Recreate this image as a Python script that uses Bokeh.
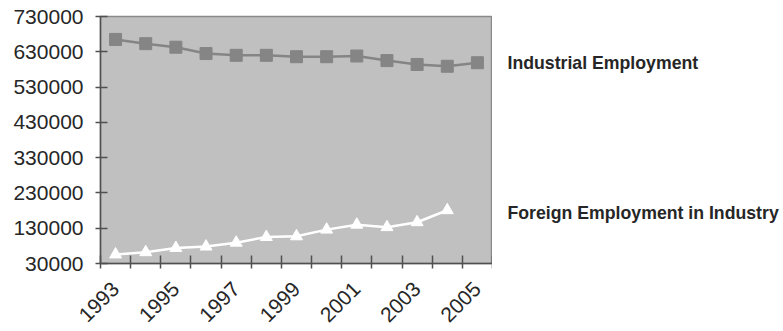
import math
from bokeh.plotting import figure
from bokeh.layouts import row
from bokeh.models import Range1d, FixedTicker, BasicTickFormatter, ColumnDataSource
from bokeh.core.properties import value
from bokeh.embed import file_html
from bokeh.resources import INLINE

years = [1993, 1994, 1995, 1996, 1997, 1998, 1999, 2000, 2001, 2002, 2003, 2004, 2005]
industrial = [665000, 653000, 643000, 625000, 620000, 620000, 616000, 616000, 618000, 605000, 594000, 589000, 599000]
foreign_years = [1993, 1994, 1995, 1996, 1997, 1998, 1999, 2000, 2001, 2002, 2003, 2004]
foreign = [55600, 62000, 74000, 78000, 89000, 105000, 107000, 126000, 140000, 133000, 147000, 181000]
y_ticks = [30000, 130000, 230000, 330000, 430000, 530000, 630000, 730000]
x_label_years = [1993, 1995, 1997, 1999, 2001, 2003, 2005]
series_names = ["Industrial Employment", "Foreign Employment in Industry"]
label_y = [597000, 172000]

FONT = "Liberation Sans"
y_range = Range1d(y_ticks[0], y_ticks[-1])

p = figure(width=492, height=331, output_backend="svg", toolbar_location=None,
           x_range=Range1d(years[0] - 0.5, years[-1] + 0.5),
           y_range=y_range,
           min_border_left=100, min_border_right=0, min_border_top=16, min_border_bottom=68)

p.background_fill_color = "#c0c0c0"
p.border_fill_color = "white"
p.outline_line_color = "#8a8a8a"
p.outline_line_width = 1.5
p.xgrid.visible = False
p.ygrid.visible = False

# y axis
p.yaxis.ticker = FixedTicker(ticks=y_ticks)
p.yaxis.formatter = BasicTickFormatter(use_scientific=False)
p.yaxis.major_label_text_font = FONT
p.yaxis.major_label_text_font_size = "21px"
p.yaxis.major_label_text_color = "#262626"
p.yaxis.axis_line_color = "#505050"
p.yaxis.axis_line_width = 1.5
p.yaxis.major_tick_line_color = "#505050"
p.yaxis.major_tick_line_width = 1.5
p.yaxis.major_tick_in = 7
p.yaxis.major_tick_out = 5
p.yaxis.minor_tick_line_color = None
p.yaxis.major_label_standoff = 12

# x axis: labels on every other year, ticks at category boundaries
boundaries = [y - 0.5 for y in years] + [years[-1] + 0.5]
p.xaxis.ticker = FixedTicker(ticks=x_label_years, minor_ticks=boundaries)
p.xaxis.formatter = BasicTickFormatter(use_scientific=False)
p.xaxis.major_label_orientation = math.pi / 4
p.xaxis.major_label_text_font = FONT
p.xaxis.major_label_text_font_size = "21px"
p.xaxis.major_label_text_color = "#262626"
p.xaxis.axis_line_color = "#505050"
p.xaxis.axis_line_width = 1.5
p.xaxis.major_tick_line_color = None
p.xaxis.minor_tick_line_color = "#505050"
p.xaxis.minor_tick_line_width = 1.5
p.xaxis.minor_tick_in = 8
p.xaxis.minor_tick_out = 5
p.xaxis.major_label_standoff = 16

src_i = ColumnDataSource(dict(x=years, y=industrial))
src_f = ColumnDataSource(dict(x=foreign_years, y=foreign))

p.line("x", "y", source=src_i, line_color="#858585", line_width=2.5)
p.scatter("x", "y", source=src_i, marker="square", size=12, fill_color="#858585", line_color="#858585")

p.line("x", "y", source=src_f, line_color="white", line_width=2.5)
p.scatter("x", "y", source=src_f, marker="triangle", size=12, fill_color="white", line_color="white")

# right-hand series labels
q = figure(width=291, height=331, output_backend="svg", toolbar_location=None,
           x_range=Range1d(0, 291), y_range=y_range,
           min_border_left=0, min_border_right=0, min_border_top=16, min_border_bottom=68)
q.axis.visible = False
q.grid.visible = False
q.outline_line_color = None
q.background_fill_color = "white"
q.border_fill_color = "white"
q.text(x=[15, 15], y=label_y, text=series_names, text_font=value(FONT),
       text_font_size="17.7px", text_font_style="bold", text_color="#262626",
       text_baseline="middle", text_align="left")

layout = row(p, q, spacing=0)
open("out.html", "w").write(file_html(layout, INLINE))
